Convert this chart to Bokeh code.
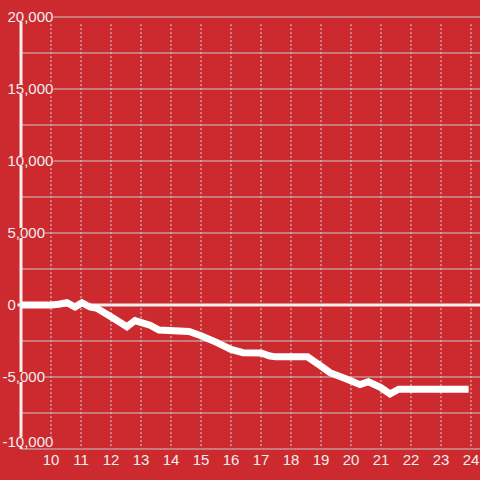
from bokeh.plotting import figure
from bokeh.models import FixedTicker, Range1d, GlobalInlineStyleSheet
from bokeh.core.properties import value
from bokeh.embed import file_html
from bokeh.resources import INLINE

# ---- data ----
hours = [9.0, 10.0, 10.25, 10.53, 10.8, 11.03, 11.3, 11.53, 12.0, 12.53, 12.8,
         13.3, 13.6, 14.6, 15.0, 15.5, 16.0, 16.4, 17.0, 17.3, 17.5, 18.55,
         19.0, 19.3, 19.87, 20.3, 20.58, 20.98, 21.3, 21.59, 23.92]
balance = [0, 0, 50, 160, -140, 160, -140, -230, -820, -1510, -1080,
           -1400, -1740, -1840, -2130, -2580, -3080, -3310, -3330, -3540, -3600, -3600,
           -4250, -4700, -5160, -5530, -5330, -5720, -6180, -5850, -5850]

x_ticks = list(range(10, 25))
y_grid = [-10000, -7500, -5000, -2500, 2500, 5000, 7500, 10000, 12500, 15000, 17500, 20000]
y_label_values = [-10000, -5000, 0, 5000, 10000, 15000, 20000]
y_labels = ["-10,000", "-5,000", "0", "5,000", "10,000", "15,000", "20,000"]

RED = "#cc2a2f"
LIGHT = "#eeeeee"
GRID = "#c9c9c9"

X_START = 8.3167
X_END = 24.3167
Y_TOP = 21145.8
Y_BOTTOM = -10104.2
AXIS_X = 9.0
ZERO_LINE_START = 8.8833
LABEL_X = 8.55
MINUS_SHIFT = 0.1667

p = figure(width=480, height=480,
           x_range=Range1d(X_START, X_END), y_range=Range1d(Y_BOTTOM, Y_TOP),
           output_backend="svg", toolbar_location=None,
           y_axis_location=None,
           min_border_left=0, min_border_right=0, min_border_top=0, min_border_bottom=30)

p.stylesheets = [GlobalInlineStyleSheet(css="body { background: #cc2a2f; }")]
p.background_fill_color = RED
p.border_fill_color = RED
p.outline_line_color = None
p.xgrid.visible = False
p.ygrid.visible = False

ax = p.xaxis[0]
ax.ticker = FixedTicker(ticks=x_ticks)
ax.axis_line_color = None
ax.major_tick_line_color = None
ax.minor_tick_line_color = None
ax.major_tick_out = 0
ax.major_tick_in = 0
ax.major_label_standoff = 4
ax.major_label_text_font = "Liberation Sans"
ax.major_label_text_font_size = "15px"
ax.major_label_text_color = LIGHT

# vertical dotted grid
p.segment(x0=x_ticks, y0=[-9800] * len(x_ticks), x1=x_ticks, y1=[19500] * len(x_ticks),
          line_color="#d9d9d9", line_width=1, line_dash="2 2")
# horizontal grid
p.segment(x0=[AXIS_X] * len(y_grid), y0=y_grid, x1=[X_END + 1] * len(y_grid), y1=y_grid,
          line_color=GRID, line_width=1)
# zero line
p.segment(x0=[ZERO_LINE_START], y0=[0], x1=[X_END + 1], y1=[0], line_color=LIGHT, line_width=3)
# y axis line
p.segment(x0=[AXIS_X], y0=[-10000], x1=[AXIS_X], y1=[20000], line_color=LIGHT, line_width=3)

# y tick labels with background
label_x = [LABEL_X - (MINUS_SHIFT if t.startswith("-") else 0) for t in y_labels]
label_dy = [-7 if v == min(y_label_values) else 0 for v in y_label_values]
p.text(x=label_x, y=y_label_values, text=y_labels, y_offset=label_dy,
       text_align="left", text_baseline="middle",
       text_font=value("Liberation Sans"), text_font_size=value("15px"),
       text_color=LIGHT, background_fill_color=RED)

# data line
p.line(hours, balance, line_color="white", line_width=7, line_join="miter")

open("out.html", "w").write(file_html(p, INLINE))
